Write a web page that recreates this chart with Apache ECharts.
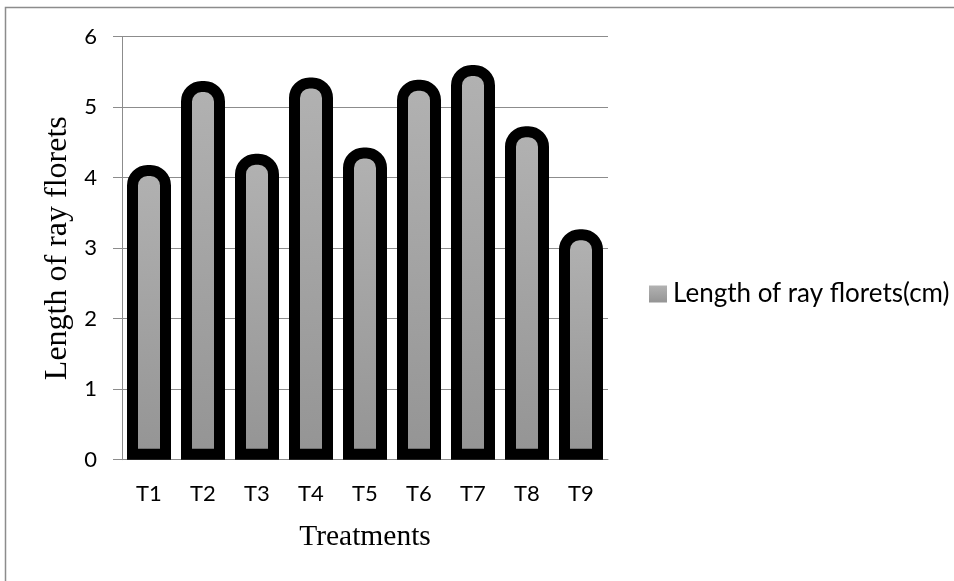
<!DOCTYPE html>
<html>
<head>
<meta charset="utf-8">
<script src="https://cdn.jsdelivr.net/npm/echarts@6/dist/echarts.min.js"></script>
<style>
html,body{margin:0;padding:0;background:#fff;}
#chart{width:954px;height:581px;}
</style>
</head>
<body>
<div id="chart"></div>
<script>
const categories = ['T1','T2','T3','T4','T5','T6','T7','T8','T9'];
const rayFloretLength = [4.18, 5.37, 4.34, 5.42, 4.43, 5.39, 5.60, 4.73, 3.27];
const seriesName = 'Length of ray florets(cm)';
const yTicks = [0, 1, 2, 3, 4, 5, 6];

const chart = echarts.init(document.getElementById('chart'), null, {renderer: 'canvas'});
const barGrad = new echarts.graphic.LinearGradient(0, 0, 0, 1, [
  {offset: 0, color: '#b2b2b2'},
  {offset: 1, color: '#949494'}
]);
chart.setOption({
  animation: false,
  backgroundColor: '#fff',
  graphic: [{
    type: 'polyline',
    shape: {points: [[5.5, 581], [5.5, 7.5], [954, 7.5]]},
    style: {stroke: '#8c8c8c', lineWidth: 1.5, fill: null},
    silent: true
  }],
  grid: {left: 122, right: 346, top: 36.7, bottom: 121.3, containLabel: false},
  legend: {
    show: true,
    orient: 'vertical',
    left: 649,
    top: 281,
    padding: 0,
    itemWidth: 18,
    itemHeight: 17,
    itemGap: 6,
    icon: 'rect',
    textStyle: {fontFamily: 'Lato', fontSize: 26, color: '#000', padding: [0, 0, 0, 1]},
    data: [{name: seriesName, itemStyle: {color: barGrad, borderWidth: 0}}]
  },
  xAxis: {
    type: 'category',
    data: categories,
    name: 'Treatments',
    nameLocation: 'middle',
    nameGap: 63,
    nameTextStyle: {fontFamily: 'Liberation Serif', fontSize: 29.5, color: '#000'},
    axisLine: {show: true, lineStyle: {color: '#8c8c8c', width: 1}},
    axisTick: {show: false},
    axisLabel: {fontFamily: 'Lato', fontSize: 22, color: '#000', margin: 23}
  },
  yAxis: {
    type: 'value',
    min: 0, max: 6, interval: 1,
    name: 'Length of ray florets',
    nameLocation: 'middle',
    nameGap: 48,
    nameRotate: 90,
    nameTextStyle: {fontFamily: 'Liberation Serif', fontSize: 32, color: '#000'},
    axisLine: {show: true, lineStyle: {color: '#8c8c8c', width: 1}},
    axisTick: {show: true, inside: false, length: 9, lineStyle: {color: '#8c8c8c'}},
    splitLine: {show: true, lineStyle: {color: '#8c8c8c', width: 1}},
    axisLabel: {fontFamily: 'Lato', fontSize: 22, color: '#000', margin: 25,
      formatter: v => yTicks.includes(v) ? String(v) : ''}
  },
  series: [{
    name: seriesName,
    type: 'bar',
    data: rayFloretLength,
    barWidth: 44,
    itemStyle: {
      color: barGrad,
      borderColor: '#000',
      borderWidth: 11,
      borderRadius: [15, 15, 0, 0]
    }
  }]
});
</script>
</body>
</html>
